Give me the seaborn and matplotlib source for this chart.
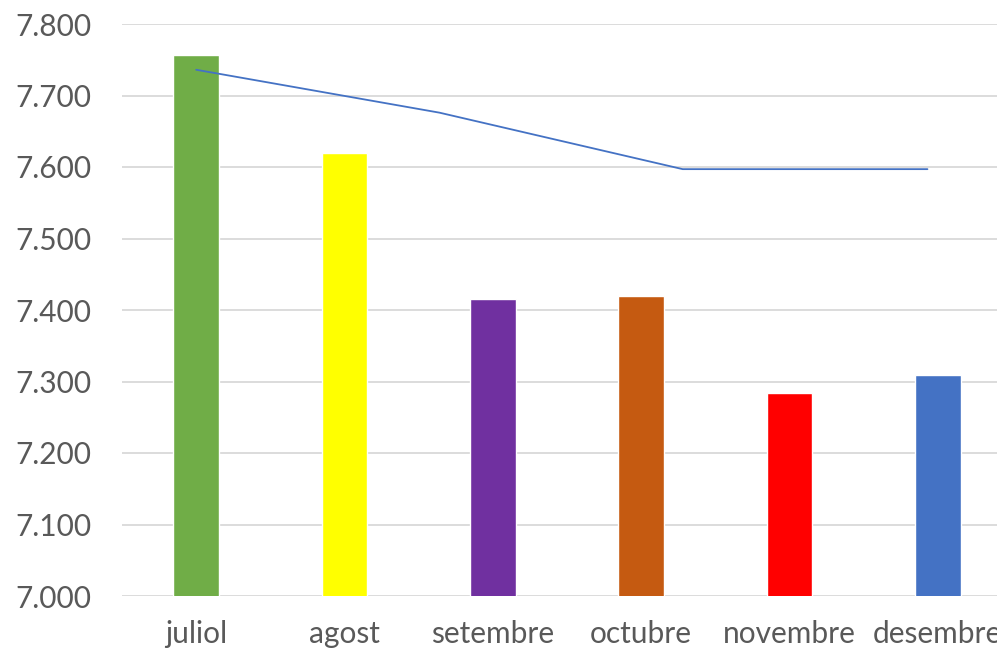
import pandas as pd
import numpy as np
import seaborn as sns
import matplotlib.pyplot as plt
from matplotlib.ticker import FuncFormatter

# data
months = ['juliol', 'agost', 'setembre', 'octubre', 'novembre', 'desembre']
values = [7757, 7620, 7416, 7419, 7284, 7309]
bar_colors = ['#70ad47', '#ffff00', '#7030a0', '#c55a11', '#ff0000', '#4472c4']

# trend line (x in category units)
line_x = [0.0, 1.64, 3.28, 4.93]
line_y = [7736, 7676, 7597, 7597]

sns.set_theme(style='white')
plt.rcParams['font.family'] = ['Lato', 'DejaVu Sans']

fig = plt.figure(figsize=(9.97, 6.53), dpi=100)
ax = fig.add_axes([122 / 997, 57 / 653, 890 / 997, 572 / 653])

df = pd.DataFrame({'mes': months, 'valor': values})
sns.barplot(data=df, x='mes', y='valor', hue='mes', palette=bar_colors,
            width=0.31, legend=False, saturation=1, ax=ax)

ax.plot(line_x, line_y, color='#4472c4', linewidth=1.3)

ax.set_ylim(7000, 7800)
ax.set_xlim(-0.5, 5.5)
ax.set_yticks(np.arange(7000, 7801, 100))
ax.yaxis.set_major_formatter(FuncFormatter(lambda v, p: f'{v/1000:.3f}'))
ax.grid(axis='y', color='#d9d9d9', linewidth=1.3)
ax.set_axisbelow(True)
for s in ax.spines.values():
    s.set_visible(False)

ax.tick_params(axis='y', length=0, pad=22, labelsize=21.5, labelcolor='#595959')
ax.tick_params(axis='x', length=0, pad=17, labelsize=21.5, labelcolor='#595959')
ax.set_xlabel('')
ax.set_ylabel('')

fig.savefig('out.png', dpi=100)
